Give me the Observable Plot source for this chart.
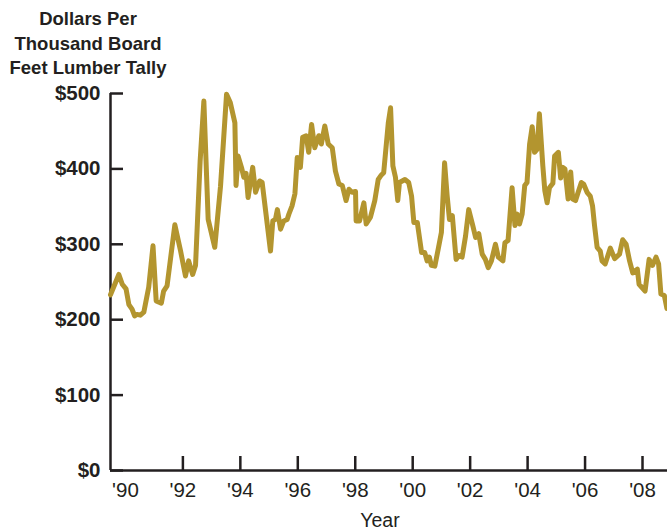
<!DOCTYPE html>
<html>
<head>
<meta charset="utf-8">
<script src="https://cdn.jsdelivr.net/npm/d3@7"></script>
<script src="https://cdn.jsdelivr.net/npm/@observablehq/plot@0.6"></script>
<style>
  html, body { margin: 0; padding: 0; background: #fff; overflow: hidden; }
  body { width: 667px; height: 530px; position: relative; font-family: "Liberation Sans", Arial, sans-serif; color: #231f20; }
  #title { position: absolute; left: 0; top: 7px; width: 176px; text-align: center; font-weight: bold; font-size: 18.5px; line-height: 24.7px; z-index: 2; }
  #chart { position: absolute; left: 0; top: 76px; z-index: 1; }
  #xlabel { position: absolute; left: 330px; width: 100px; top: 512px; text-align: center; font-size: 19.5px; line-height: 17px; z-index: 2; }
</style>
</head>
<body>
<div id="chart"></div>
<div id="title">Dollars Per<br>Thousand Board<br>Feet Lumber Tally</div>
<div id="xlabel">Year</div>
<script>
// Lumber price (dollars per thousand board feet)
const years = [
  1989.48, 1989.77, 1989.89, 1990.02, 1990.12, 1990.23, 1990.32, 1990.40, 1990.52, 1990.64,
  1990.81, 1990.96, 1991.07, 1991.25, 1991.33, 1991.45, 1991.72, 1991.92, 1992.09, 1992.20,
  1992.34, 1992.44, 1992.60, 1992.73, 1992.88, 1993.11, 1993.31, 1993.52, 1993.65, 1993.81,
  1993.85, 1993.92, 1994.04, 1994.12, 1994.20, 1994.27, 1994.43, 1994.53, 1994.67, 1994.76,
  1994.90, 1995.05, 1995.13, 1995.22, 1995.29, 1995.40, 1995.51, 1995.63, 1995.69, 1995.80,
  1995.90, 1995.98, 1996.09, 1996.17, 1996.29, 1996.38, 1996.48, 1996.59, 1996.73, 1996.82,
  1996.94, 1997.06, 1997.20, 1997.31, 1997.43, 1997.55, 1997.68, 1997.78, 1997.89, 1998.01,
  1998.03, 1998.15, 1998.30, 1998.38, 1998.53, 1998.68, 1998.80, 1998.91, 1998.99, 1999.15,
  1999.23, 1999.31, 1999.40, 1999.48, 1999.54, 1999.73, 1999.86, 1999.96, 2000.04, 2000.16,
  2000.31, 2000.42, 2000.50, 2000.58, 2000.65, 2000.77, 2000.89, 2001.00, 2001.11, 2001.20,
  2001.28, 2001.38, 2001.51, 2001.61, 2001.72, 2001.84, 2001.95, 2002.09, 2002.19, 2002.30,
  2002.42, 2002.53, 2002.63, 2002.74, 2002.88, 2002.98, 2003.14, 2003.21, 2003.32, 2003.46,
  2003.56, 2003.64, 2003.72, 2003.81, 2003.90, 2003.98, 2004.07, 2004.16, 2004.24, 2004.33,
  2004.41, 2004.53, 2004.60, 2004.68, 2004.76, 2004.88, 2004.94, 2005.07, 2005.15, 2005.23,
  2005.30, 2005.41, 2005.50, 2005.57, 2005.67, 2005.76, 2005.87, 2005.95, 2006.07, 2006.18,
  2006.26, 2006.33, 2006.42, 2006.53, 2006.59, 2006.70, 2006.88, 2007.03, 2007.20, 2007.31,
  2007.43, 2007.55, 2007.66, 2007.82, 2007.88, 2008.09, 2008.23, 2008.35, 2008.47, 2008.56,
  2008.64, 2008.76, 2008.85
];
const prices = [
  233, 260, 247, 241, 220, 214, 205, 207, 206, 210,
  243, 298, 225, 222, 238, 245, 326, 291, 258, 278,
  260, 272, 410, 490, 333, 296, 377, 499, 488, 461,
  378, 417, 402, 389, 394, 362, 402, 369, 384, 382,
  338, 291, 331, 333, 346, 320, 331, 333, 340, 351,
  367, 415, 402, 442, 444, 422, 459, 428, 444, 433,
  457, 433, 428, 397, 380, 378, 358, 373, 369, 370,
  331, 331, 355, 327, 336, 358, 386, 392, 395, 461,
  481, 404, 389, 358, 382, 386, 382, 364, 329, 329,
  289, 289, 278, 283, 272, 271, 294, 316, 408, 364,
  333, 338, 280, 285, 283, 311, 346, 325, 309, 314,
  287, 280, 269, 278, 300, 283, 278, 302, 305, 375,
  325, 340, 327, 340, 378, 382, 433, 456, 422, 426,
  473, 404, 371, 355, 375, 381, 417, 422, 388, 402,
  400, 360, 396, 360, 358, 369, 382, 380, 369, 364,
  351, 325, 296, 291, 278, 274, 295, 281, 287, 306,
  300, 278, 262, 267, 247, 238, 280, 272, 283, 274,
  234, 232, 215
];
const xDomain = [1989.48, 2008.87];
const yTicks = [0, 100, 200, 300, 400, 500];
const xTickMarks = [1992, 1994, 1996, 1998, 2000, 2002, 2004, 2006, 2008];
const xTickLabels = [1990, 1992, 1994, 1996, 1998, 2000, 2002, 2004, 2006, 2008];

const data = years.map((yr, i) => ({year: yr, price: prices[i]}));
const INK = "#231f20";
const GOLD = "#b3952f";

const chart = Plot.plot({
  width: 667,
  height: 436,
  marginTop: 17,
  marginBottom: 42,
  marginLeft: 110,
  marginRight: 0,
  style: {fontFamily: "'Liberation Sans', Arial, sans-serif", color: INK, background: "transparent"},
  x: {domain: xDomain},
  y: {domain: [0, 500]},
  marks: [
    Plot.axisY(yTicks, {tickSize: -13, tickFormat: () => "", strokeWidth: 2.5, stroke: INK, label: null}),
    Plot.axisY(yTicks, {tickSize: 0, tickPadding: 10, tickFormat: d => "$" + d, fontSize: 20.5, fontWeight: "bold", fill: INK, label: null}),
    Plot.axisX(xTickMarks, {tickSize: -14, tickFormat: () => "", strokeWidth: 2.5, stroke: INK, label: null}),
    Plot.axisX(xTickLabels, {tickSize: 0, tickPadding: 12, tickFormat: d => "'" + String(d).slice(2), fontSize: 20.5, fill: INK, label: null}),
    Plot.ruleX([xDomain[0]], {stroke: INK, strokeWidth: 2.5}),
    Plot.ruleY([0], {stroke: INK, strokeWidth: 2.5}),
    Plot.line(data, {x: "year", y: "price", stroke: GOLD, strokeWidth: 5, strokeLinejoin: "round", strokeLinecap: "round"})
  ]
});
document.getElementById("chart").appendChild(chart);
</script>
</body>
</html>
